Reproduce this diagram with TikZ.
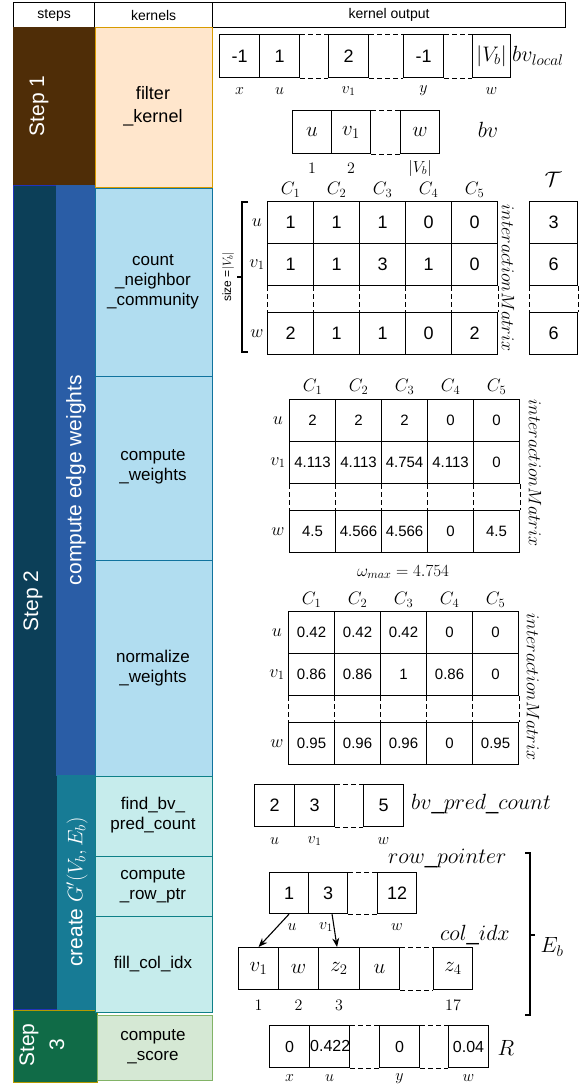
\documentclass[tikz,border=0pt]{standalone}
\usepackage{fix-cm}
\usepackage[no-math]{fontspec}
\setmainfont{Liberation Sans}
\usetikzlibrary{arrows.meta}
\newcommand{\fsz}[2]{\fontsize{#1}{#2}\selectfont}
\definecolor{cStepA}{HTML}{4F2D07}
\definecolor{cPeach}{HTML}{FFE6CC}
\definecolor{cOrange}{HTML}{D79B00}
\definecolor{cStepB}{HTML}{0C3F58}
\definecolor{cBlueLine}{HTML}{2233BB}
\definecolor{cEdgeW}{HTML}{2A5DA6}
\definecolor{cCreate}{HTML}{177B95}
\definecolor{cLBlue}{HTML}{B1DDF0}
\definecolor{cLBlueB}{HTML}{10739E}
\definecolor{cLCyan}{HTML}{C6ECEC}
\definecolor{cLCyanB}{HTML}{0E8088}
\definecolor{cStepC}{HTML}{106B47}
\definecolor{cGold}{HTML}{B59A00}
\definecolor{cLGreen}{HTML}{D5E8D4}
\definecolor{cLGreenB}{HTML}{82B366}
\tikzset{
  hdr/.style={draw=black, line width=1.2pt, fill=white, anchor=north west, minimum height=25pt, inner sep=0pt, font=\fsz{14}{16}},
  lbox/.style={anchor=north west, inner sep=0pt, line width=1pt},
  steptxt/.style={rotate=90, text=white, font=\fsz{21}{26}, align=center, inner sep=0pt},
  ktxt/.style={align=center, font=\fsz{17}{20}, text=black, inner sep=0pt},
  cell/.style={draw=black, line width=1.1pt, anchor=north west, inner sep=0pt, minimum width=40pt, minimum height=43pt, font=\fsz{18}{21}},
  mathcell/.style={cell, font=\fsz{21}{24}},
  mcell/.style={cell, minimum width=46pt, minimum height=42pt},
  wcell/.style={cell, minimum width=46pt, minimum height=42pt, font=\fsz{15}{18}},
  gapdash/.style={draw=black, line width=0.9pt, dash pattern=on 5pt off 3pt},
  boxlab/.style={font=\fsz{16}{18}, inner sep=0pt},
  arrlab/.style={font=\fsz{22}{25}, inner sep=0pt, anchor=west},
  clab/.style={font=\fsz{18}{20}, inner sep=0pt},
  imlab/.style={rotate=-90, font=\fsz{18}{20}, inner sep=0pt},
  brk/.style={line width=2pt},
  ptr/.style={-{Stealth[length=9pt,width=7pt]}, line width=1.1pt},
}
\begin{document}
\begin{tikzpicture}[x=1pt,y=-1pt]
\useasboundingbox (0,0) rectangle (585,1088);
% ---------- header
\node[hdr, minimum width=81pt] (hsteps) at (13,2) {steps};
\node[hdr, minimum width=118pt] (hkern) at (94,2) {kernels};
\node[hdr, minimum width=353pt] (hout) at (212,2) {kernel output};
% ---------- steps column
\node[lbox, fill=cStepA, draw=cStepA, minimum width=81pt, minimum height=160pt] (s1) at (13,27) {};
\node[steptxt] (s1t) at (39,106) {Step 1};
\node[lbox, fill=cStepB, draw=cBlueLine, minimum width=71pt, minimum height=824pt] (s2) at (13,185) {};
\node[steptxt] (s2t) at (33,601) {Step 2};
\node[lbox, fill=cEdgeW, draw=cEdgeW, minimum width=39pt, minimum height=590pt] (ew) at (56,185) {};
\node[steptxt] (ewt) at (76,480) {compute edge weights};
\node[lbox, fill=cCreate, draw=cCreate, minimum width=39pt, minimum height=234pt] (cg) at (57,775) {};
\node[steptxt] (cgt) at (77,892) {create $G'(V_b,E_b)$};
\node[lbox, fill=cStepC, draw=cGold, minimum width=84pt, minimum height=72pt] (s3) at (13,1010) {};
\node[steptxt, font=\fsz{21}{30}] (s3t) at (42,1045) {Step\\3};
% ---------- kernels column
\node[lbox, fill=cPeach, draw=cOrange, minimum width=117pt, minimum height=160pt] (k1) at (95,27) {};
\node[ktxt, font=\fsz{18}{23}] (k1t) at (153,106) {filter\\\_kernel};
\node[lbox, fill=cLBlue, draw=cLBlueB, minimum width=117pt, minimum height=188pt] (k2) at (95,188) {};
\node[ktxt] (k2t) at (153,282) {count\\\_neighbor\\\_community};
\node[lbox, fill=cLBlue, draw=cLBlueB, minimum width=117pt, minimum height=184pt] (k3) at (95,376) {};
\node[ktxt] (k3t) at (153,467) {compute\\\_weights};
\node[lbox, fill=cLBlue, draw=cLBlueB, minimum width=117pt, minimum height=216pt] (k4) at (95,560) {};
\node[ktxt] (k4t) at (153,668) {normalize\\\_weights};
\node[lbox, fill=cLCyan, draw=cLCyanB, minimum width=117pt, minimum height=80pt] (k5) at (95,776) {};
\node[ktxt] (k5t) at (153,815) {find\_bv\_\\pred\_count};
\node[lbox, fill=cLCyan, draw=cLCyanB, minimum width=117pt, minimum height=60pt] (k6) at (95,856) {};
\node[ktxt] (k6t) at (153,886) {compute\\\_row\_ptr};
\node[lbox, fill=cLCyan, draw=cLCyanB, minimum width=117pt, minimum height=96pt] (k7) at (95,916) {};
\node[ktxt] (k7t) at (153,964) {fill\_col\_idx};
\node[lbox, fill=cLGreen, draw=cLGreenB, minimum width=115pt, minimum height=65pt] (k8) at (97,1015) {};
\node[ktxt] (k8t) at (153,1047) {compute\\\_score};
% ---------- bv_local
\node[cell] (bl1) at (219,34) {-1};
\node[cell] (bl2) at (259,34) {1};
\node[cell] (bl3) at (328,34) {2};
\node[cell] (bl4) at (403,34) {-1};
\node[mathcell, minimum width=38pt] (bl5) at (472,34) {$|V_b|$};
\foreach \a/\b in {bl2/bl3,bl3/bl4,bl4/bl5}{
  \draw[gapdash] (\a.north east) -- (\b.north west);
  \draw[gapdash] (\a.south east) -- (\b.south west);
}
\foreach \n/\t in {bl1/x,bl2/u,bl3/v_1,bl4/y,bl5/w}{
  \node[boxlab] (\n l) at ([yshift=-13pt]\n.south) {$\t$};
}
\node[arrlab] (blname) at (512,56) {$bv_{local}$};
% ---------- bv
\node[mathcell, minimum width=39pt] (bv1) at (292,110) {$u$};
\node[mathcell, minimum width=39pt] (bv2) at (331,110) {$v_1$};
\node[mathcell, minimum width=39pt] (bv3) at (400,110) {$w$};
\draw[gapdash] (bv2.north east) -- (bv3.north west);
\draw[gapdash] (bv2.south east) -- (bv3.south west);
\foreach \n/\t in {bv1/1,bv2/2,bv3/|V_b|}{
  \node[boxlab] (\n l) at ([yshift=-14pt]\n.south) {$\t$};
}
\node[arrlab, anchor=center] (bvname) at (488,130) {$bv$};
% ---------- count matrix
\foreach \c/\x/\a/\b/\d in {1/267/1/1/2,2/313/1/1/1,3/359/1/3/1,4/405/0/1/0,5/451/0/0/2}{
  \node[mcell] (A-u-\c) at (\x,201) {\a};
  \node[mcell] (A-v-\c) at (\x,243) {\b};
  \node[mcell] (A-w-\c) at (\x,312) {\d};
  \draw[gapdash] (A-v-\c.south west) -- (A-w-\c.north west);
  \node[clab] (A-C-\c) at ([yshift=11pt]A-u-\c.north) {$C_\c$};
}
\draw[gapdash] (A-v-5.south east) -- (A-w-5.north east);
\node[clab] (A-ru) at ([xshift=-10pt]A-u-1.west) {$u$};
\node[clab] (A-rv) at ([xshift=-10pt]A-v-1.west) {$v_1$};
\node[clab] (A-rw) at ([xshift=-10pt]A-w-1.west) {$w$};
\node[imlab] (A-im) at (508,278) {$interactionMatrix$};
\node[mcell, minimum width=48pt] (T1) at (529,201) {3};
\node[mcell, minimum width=48pt] (T2) at (529,243) {6};
\node[mcell, minimum width=48pt] (T3) at (529,312) {6};
\draw[gapdash] (T2.south west) -- (T3.north west);
\draw[gapdash] (T2.south east) -- (T3.north east);
\node[clab, font=\fsz{21}{24}] (Tl) at (553,179) {$\mathcal{T}$};
\draw[brk] (248,202) -- (242,202) -- (242,352) -- (248,352);
\draw[brk] (242,277) -- (237,277);
\node[rotate=90, font=\fsz{12}{14}, inner sep=0pt] (szl) at (228,277) {size =$|V_b|$};
% ---------- weights matrix
\foreach \c/\x/\a/\b/\d in {1/289/2/4.113/4.5,2/335/2/4.113/4.566,3/381/2/4.754/4.566,4/427/0/4.113/0,5/473/0/0/4.5}{
  \node[wcell] (B-u-\c) at (\x,399) {\a};
  \node[wcell] (B-v-\c) at (\x,441) {\b};
  \node[wcell] (B-w-\c) at (\x,510) {\d};
  \draw[gapdash] (B-v-\c.south west) -- (B-w-\c.north west);
  \node[clab] (B-C-\c) at ([yshift=12pt]B-u-\c.north) {$C_\c$};
}
\draw[gapdash] (B-v-5.south east) -- (B-w-5.north east);
\node[clab] (B-ru) at ([xshift=-11pt]B-u-1.west) {$u$};
\node[clab] (B-rv) at ([xshift=-11pt]B-v-1.west) {$v_1$};
\node[clab] (B-rw) at ([xshift=-11pt]B-w-1.west) {$w$};
\node[imlab] (B-im) at (535,473) {$interactionMatrix$};
\node[font=\fsz{17}{19}, inner sep=0pt] (wmax) at (403,572) {$\omega_{max} = 4.754$};
% ---------- normalized matrix
\foreach \c/\x/\a/\b/\d in {1/288/0.42/0.86/0.95,2/334/0.42/0.86/0.96,3/380/0.42/1/0.96,4/426/0/0.86/0,5/472/0/0/0.95}{
  \node[wcell] (N-u-\c) at (\x,611) {\a};
  \node[wcell] (N-v-\c) at (\x,653) {\b};
  \node[wcell] (N-w-\c) at (\x,722) {\d};
  \draw[gapdash] (N-v-\c.south west) -- (N-w-\c.north west);
  \node[clab] (N-C-\c) at ([yshift=11pt]N-u-\c.north) {$C_\c$};
}
\draw[gapdash] (N-v-5.south east) -- (N-w-5.north east);
\node[clab] (N-ru) at ([xshift=-11pt]N-u-1.west) {$u$};
\node[clab] (N-rv) at ([xshift=-11pt]N-v-1.west) {$v_1$};
\node[clab] (N-rw) at ([xshift=-11pt]N-w-1.west) {$w$};
\node[imlab] (N-im) at (533,687) {$interactionMatrix$};
% ---------- bv_pred_count
\node[cell, minimum height=42pt] (pc1) at (254,784) {2};
\node[cell, minimum height=42pt] (pc2) at (294,784) {3};
\node[cell, minimum height=42pt] (pc3) at (363,784) {5};
\draw[gapdash] (pc2.north east) -- (pc3.north west);
\draw[gapdash] (pc2.south east) -- (pc3.south west);
\foreach \n/\t in {pc1/u,pc2/v_1,pc3/w}{
  \node[boxlab] (\n l) at ([yshift=-14pt]\n.south) {$\t$};
}
\node[arrlab] (pcname) at (411,804) {$bv\_pred\_count$};
% ---------- row_pointer
\node[cell, minimum width=39pt, minimum height=41pt] (rp1) at (269,872) {1};
\node[cell, minimum width=39pt, minimum height=41pt] (rp2) at (308,872) {3};
\node[cell, minimum width=39pt, minimum height=41pt] (rp3) at (377,872) {12};
\draw[gapdash] (rp2.north east) -- (rp3.north west);
\draw[gapdash] (rp2.south east) -- (rp3.south west);
\foreach \n/\t/\s in {rp1/u/3,rp2/v_1/-2,rp3/w/0}{
  \node[boxlab] (\n l) at ([yshift=-13pt,xshift=\s pt]\n.south) {$\t$};
}
\node[arrlab] (rpname) at (388,858) {$row\_pointer$};
% ---------- col_idx
\node[mathcell, minimum height=42pt] (ci1) at (238,947) {$v_1$};
\node[mathcell, minimum height=42pt] (ci2) at (278,947) {$w$};
\node[mathcell, minimum width=41pt, minimum height=42pt] (ci3) at (318,947) {$z_2$};
\node[mathcell, minimum height=42pt] (ci4) at (359,947) {$u$};
\node[mathcell, minimum width=39pt, minimum height=42pt] (ci5) at (433,947) {$z_4$};
\draw[gapdash] (ci4.north east) -- (ci5.north west);
\draw[gapdash] (ci4.south east) -- (ci5.south west);
\foreach \n/\t in {ci1/1,ci2/2,ci3/3,ci5/17}{
  \node[boxlab] (\n l) at ([yshift=-15pt]\n.south) {$\t$};
}
\node[arrlab] (ciname) at (440,935) {$col\_idx$};
\draw[ptr] (rp1.south) -- (ci1.north);
\draw[ptr] ([xshift=4pt]rp2.south) -- ([xshift=-2pt]ci3.north);
% ---------- E_b bracket
\draw[brk] (525,853) -- (530,853) -- (530,1015) -- (525,1015);
\draw[brk] (530,935) -- (535,935);
\node[font=\fsz{22}{25}, inner sep=0pt] (Eb) at (552,947) {$E_b$};
% ---------- R
\node[cell, minimum height=42pt, font=\fsz{16}{18}] (R1) at (269,1025) {0};
\begin{scope}
  \clip (309,1025) rectangle (349,1067);
  \node[font=\fsz{16}{18}, inner sep=0pt, anchor=west] (R2t) at (310,1046) {0.422};
\end{scope}
\node[cell, minimum height=42pt, font=\fsz{16}{18}] (R2) at (309,1025) {};
\node[cell, minimum height=42pt, font=\fsz{16}{18}] (R3) at (379,1025) {0};
\node[cell, minimum height=42pt, font=\fsz{16}{18}] (R4) at (448,1025) {0.04};
\foreach \a/\b in {R2/R3,R3/R4}{
  \draw[gapdash] (\a.north east) -- (\b.north west);
  \draw[gapdash] (\a.south east) -- (\b.south west);
}
\foreach \n/\t in {R1/x,R2/u,R3/y,R4/w}{
  \node[boxlab] (\n l) at ([yshift=-10pt]\n.south) {$\t$};
}
\node[font=\fsz{22}{25}, inner sep=0pt] (Rname) at (506,1048) {$R$};
\end{tikzpicture}
\end{document}
